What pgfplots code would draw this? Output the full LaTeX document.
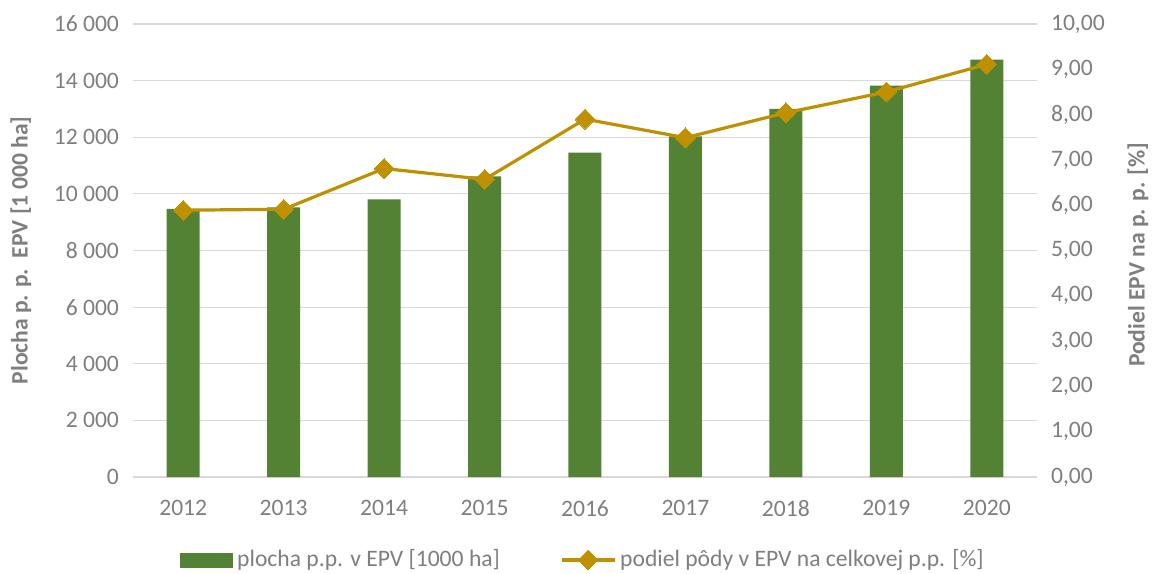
\documentclass[border=0pt]{standalone}
\usepackage{fontspec}
\setmainfont{Carlito}
\usepackage{pgfplots}
\pgfplotsset{compat=1.18}
\definecolor{barg}{HTML}{548235}
\definecolor{lineg}{HTML}{BF9000}
\definecolor{txt}{HTML}{7F7F7F}
\definecolor{gridc}{HTML}{D9D9D9}
\newcommand{\fs}{\fontsize{11.8}{14}\selectfont}
\pgfplotsset{mylineleg/.style={legend image code/.code={\draw[mark repeat=2,mark phase=2,##1] plot coordinates {(0pt,0pt) (13.25pt,0pt) (26.5pt,0pt)};}}}
\begin{document}
\begin{tikzpicture}
\path[use as bounding box] (-66.5pt,-48pt) rectangle (510.5pt,238.5pt);
\begin{axis}[
  at={(0,0)}, anchor=south west, scale only axis,
  width=452pt, height=226.5pt,
  xmin=-0.5, xmax=8.5, ymin=0, ymax=16000,
  xtick={0,1,2,3,4,5,6,7,8},
  xticklabels={2012,2013,2014,2015,2016,2017,2018,2019,2020},
  ytick={0,2000,4000,6000,8000,10000,12000,14000,16000},
  axis line style={draw=none},
  major tick length=0pt,
  ymajorgrids, grid style={gridc, line width=0.6pt},
  /pgf/number format/assume math mode=true,
  /pgf/number format/1000 sep={\ },
  scaled y ticks=false,
  ticklabel style={font=\fs, text=txt},
  yticklabel style={xshift=-3.5pt},
  xticklabel style={yshift=-8pt},
  ylabel={Plocha p. p.\ \ EPV [1 000 ha]},
  every axis y label/.style={at={(axis description cs:-0.124,0.5)}, rotate=90, anchor=center,
    font=\bfseries\fs, text=txt},
  clip=false,
]
\addplot[ybar, bar width=16.5pt, fill=barg, draw=none] coordinates {
 (0,9470) (1,9527) (2,9810) (3,10621) (4,11457) (5,12030) (6,13000) (7,13822) (8,14740)};
\end{axis}
\begin{axis}[
  at={(0,0)}, anchor=south west, scale only axis,
  width=452pt, height=226.5pt,
  xmin=-0.5, xmax=8.5, ymin=0, ymax=10,
  axis x line=none, axis y line*=right,
  axis line style={draw=none},
  major tick length=0pt,
  ytick={0,1,2,3,4,5,6,7,8,9,10},
  /pgf/number format/assume math mode=true,
  yticklabel={\pgfmathprintnumber[fixed,fixed zerofill,precision=2,use comma]{\tick}},
  ticklabel style={font=\fs, text=txt},
  yticklabel style={xshift=3.5pt},
  ylabel={Podiel EPV na p. p. [\%]},
  every axis y label/.style={at={(axis description cs:1.1117,0.49)}, rotate=90, anchor=center,
    font=\bfseries\fs, text=txt},
  legend style={at={(0.499,-0.183)}, anchor=center, draw=none, legend columns=2,
    font=\fs, text=txt,
    /tikz/every even column/.append style={column sep=28pt}},
  clip=false,
]
\addlegendimage{legend image code/.code={\fill[barg] (0pt,-3.5pt) rectangle (26pt,3.5pt);}}
\addlegendentry{plocha p.p. v EPV [1000 ha]}
\addplot[lineg, line width=1.6pt, mark=square*, mark size=3.5pt, mark options={rotate=45, fill=lineg, draw=lineg, line width=0pt}, mylineleg]
 coordinates {(0,5.89) (1,5.91) (2,6.81) (3,6.57) (4,7.90) (5,7.49) (6,8.04) (7,8.50) (8,9.11)};
\addlegendentry{podiel pôdy v EPV na celkovej p.p. [\%]}
\end{axis}
\end{tikzpicture}
\end{document}
